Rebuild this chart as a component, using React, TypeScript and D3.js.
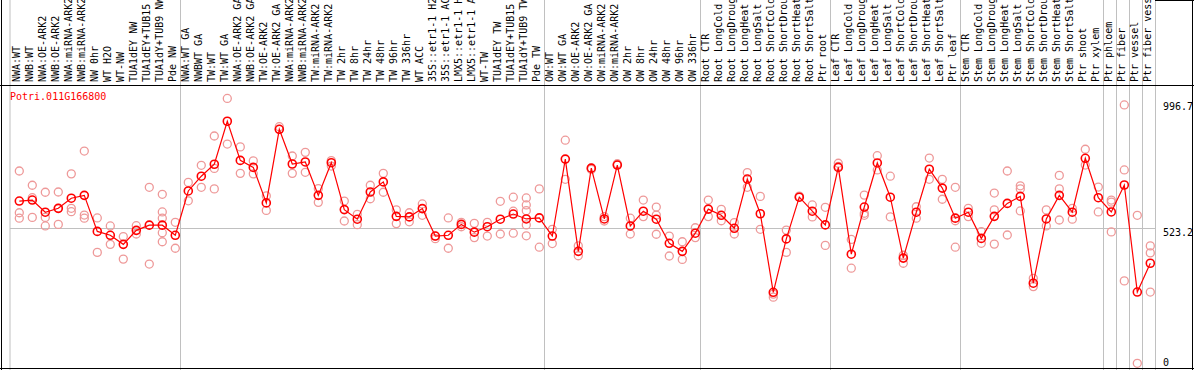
import React from 'react';
import * as d3 from 'd3';

const geneId = 'Potri.011G166800';

const labels = [
  'NWA:WT', 'NWB:WT', 'NWA:OE-ARK2', 'NWB:OE-ARK2', 'NWA:miRNA-ARK2', 'NWB:miRNA-ARK2', 'NW 0hr', 'WT H2O', 'WT-NW',
  'TUA1dEY NW', 'TUA1dEY+TUB15 NW', 'TUA1dY+TUB9 NW', 'Pde NW',
  'NWA:WT GA', 'NWBWT GA', 'TW:WT', 'TW:WT GA', 'NWA:OE-ARK2 GA', 'NWB:OE-ARK2 GA', 'TW:OE-ARK2', 'TW:OE-ARK2 GA',
  'NWA:miRNA-ARK2', 'NWB:miRNA-ARK2', 'TW:miRNA-ARK2', 'TW:miRNA-ARK2', 'TW 2hr', 'TW 8hr', 'TW 24hr', 'TW 48hr',
  'TW 96hr', 'TW 336hr', 'WT ACC', '35S::etr1-1 H2O', '35S::etr1-1 ACC', 'LMX5::etr1-1 H2O', 'LMX5::etr1-1 ACC',
  'WT-TW', 'TUA1dEY TW', 'TUA1dEY+TUB15 TW', 'TUA1dY+TUB9 TW', 'Pde TW',
  'OW:WT', 'OW:WT GA', 'OW:OE-ARK2', 'OW:OE-ARK2 GA', 'OW:miRNA-ARK2', 'OW:miRNA-ARK2', 'OW 2hr', 'OW 8hr',
  'OW 24hr', 'OW 48hr', 'OW 96hr', 'OW 336hr',
  'Root CTR', 'Root LongCold', 'Root LongDrought', 'Root LongHeat', 'Root LongSalt', 'Root ShortCold',
  'Root ShortDrought', 'Root ShortHeat', 'Root ShortSalt', 'Ptr root',
  'Leaf CTR', 'Leaf LongCold', 'Leaf LongDrought', 'Leaf LongHeat', 'Leaf LongSalt', 'Leaf ShortCold',
  'Leaf ShortDrought', 'Leaf ShortHeat', 'Leaf ShortSalt', 'Ptr leaf',
  'Stem CTR', 'Stem LongCold', 'Stem LongDrought', 'Stem LongHeat', 'Stem LongSalt', 'Stem ShortCold',
  'Stem ShortDrought', 'Stem ShortHeat', 'Stem ShortSalt', 'Ptr shoot', 'Ptr xylem',
  'Ptr phloem', 'Ptr fiber', 'Ptr vessel', 'Ptr fiber vessel',
];

// number of samples in each block, separated by grey lines
const groupSizes = [13, 28, 12, 10, 10, 11, 1, 1, 1, 1];

const means = [
  626, 630, 583, 598, 637, 648, 509, 494, 459, 513, 533, 533, 494,
  665, 722, 768, 934, 783, 756, 619, 903, 769, 777, 648, 774, 593, 556, 661, 700, 567, 565, 597, 491, 494, 536, 506,
  527, 556, 576, 557, 561,
  491, 788, 432, 753, 557, 765, 530, 587, 556, 463, 432, 502,
  595, 571, 521, 711, 577, 274, 480, 641, 587, 534,
  756, 421, 603, 773, 641, 406, 583, 749, 676, 560,
  583, 482, 567, 617, 644, 309, 557, 648, 583, 791, 639,
  584, 688, 275, 386,
];

const replicates = [
  [742, 581, 560], [687, 639, 563], [660, 563, 530], [661, 598, 536], [731, 598, 585], [819, 572, 560],
  [561, 428], [530, 459], [489, 402], [531, 499], [679, 383], [652, 584, 560, 504, 469], [544, 444],
  [698, 627], [764, 679], [877, 752, 673], [1022, 846], [835, 733], [781, 731], [646, 590], [913, 903],
  [800, 733], [814, 737], [674, 621], [782, 761], [626, 549], [575, 535], [687, 635], [733, 660], [592, 539],
  [581, 546], [615, 571], [491, 481], [561, 444], [544, 527], [540, 485], [544, 491], [625, 499],
  [641, 587, 502], [638, 611, 589, 534, 492], [673, 448],
  [517, 462], [861, 710], [453, 415], [753, 748], [566, 549], [765, 770], [560, 499], [630, 566],
  [603, 572, 498], [491, 414], [469, 401], [523, 485],
  [630, 566], [594, 550], [543, 499], [736, 679], [644, 517], [267, 255], [514, 428], [641, 645], [611, 565],
  [602, 455],
  [772, 760], [478, 367], [649, 579, 571], [801, 746], [722, 565], [417, 386], [604, 560], [792, 710],
  [710, 633], [679, 550, 448],
  [598, 566], [508, 463], [657, 592, 460], [742, 495], [685, 673, 588], [328, 296], [592, 530],
  [725, 673, 553], [598, 556], [826, 765], [680, 584],
  [630, 622, 507], [997, 746, 318], [571, 0], [453, 426, 275],
];

const axisTicks = [996.7, 523.2, 0];
const gridValue = 523.2;

const W = 1194;
const H = 370;
const headerBottom = 85;
const plotLeft = 10;
const plotRight = 1155;
const font = '"DejaVu Sans Mono", monospace';

export default function App() {
  const x = d3.scalePoint<number>().domain(d3.range(labels.length)).range([19.3, 1150.3]);
  const y = d3.scaleLinear().domain([0, 996.7]).range([363.3, 105]);

  // separator positions after the last sample of each block
  const ends = d3.cumsum(groupSizes).map((c) => c - 1);
  const seps = [plotLeft, ...ends.map((e) => Math.round((x(e) as number) + 5) + 0.5)];

  const line = d3
    .line<number>()
    .x((_, i) => x(i) as number)
    .y((d) => y(d));

  const tickDy: { [k: string]: number } = { '996.7': 5, '523.2': 8, '0': 4 };

  return (
    <svg
      width={W}
      height={H}
      style={{ position: 'fixed', left: 0, top: 0, background: '#fff' }}
      fontFamily={font}
      fontSize={10}
    >
      <rect x={0} y={0} width={W} height={H} fill="#fff" />

      {seps.map((sx, i) => (
        <line key={'s' + i} x1={sx} x2={sx} y1={0} y2={H} stroke="#c0c0c0" strokeWidth={1} />
      ))}

      {labels.map((l, i) => (
        <text
          key={'l' + i}
          transform={`translate(${(x(i) as number) + 1},82) rotate(-90)`}
          fill="#000"
        >
          {l}
        </text>
      ))}

      <line x1={plotLeft} x2={plotRight} y1={Math.round(y(gridValue)) + 0.5} y2={Math.round(y(gridValue)) + 0.5} stroke="#c0c0c0" />

      {axisTicks.map((t) => (
        <text key={'t' + t} x={1163} y={Math.min(y(t) + tickDy[String(t)], 366)} fill="#000">
          {String(t)}
        </text>
      ))}

      <text x={10} y={100} fill="#ff0000">
        {geneId}
      </text>

      {replicates.map((reps, i) =>
        reps.map((v, j) => (
          <circle
            key={`r${i}-${j}`}
            cx={x(i) as number}
            cy={y(v)}
            r={4}
            fill="none"
            stroke="#ee9999"
            strokeWidth={1.3}
          />
        ))
      )}

      <path d={line(means) || ''} fill="none" stroke="#ff0000" strokeWidth={1.2} />

      {means.map((v, i) => (
        <circle key={'m' + i} cx={x(i) as number} cy={y(v)} r={4} fill="none" stroke="#ff0000" strokeWidth={1.6} />
      ))}

      {/* frame */}
      <line x1={1.5} x2={1.5} y1={0} y2={H} stroke="#000" />
      <line x1={0} x2={W} y1={headerBottom + 0.5} y2={headerBottom + 0.5} stroke="#000" />
      <line x1={0} x2={W} y1={H - 1.5} y2={H - 1.5} stroke="#000" />
      <line x1={plotRight} x2={W} y1={0.5} y2={0.5} stroke="#000" />
      <line x1={W - 1.5} x2={W - 1.5} y1={0} y2={H} stroke="#000" />
    </svg>
  );
}
